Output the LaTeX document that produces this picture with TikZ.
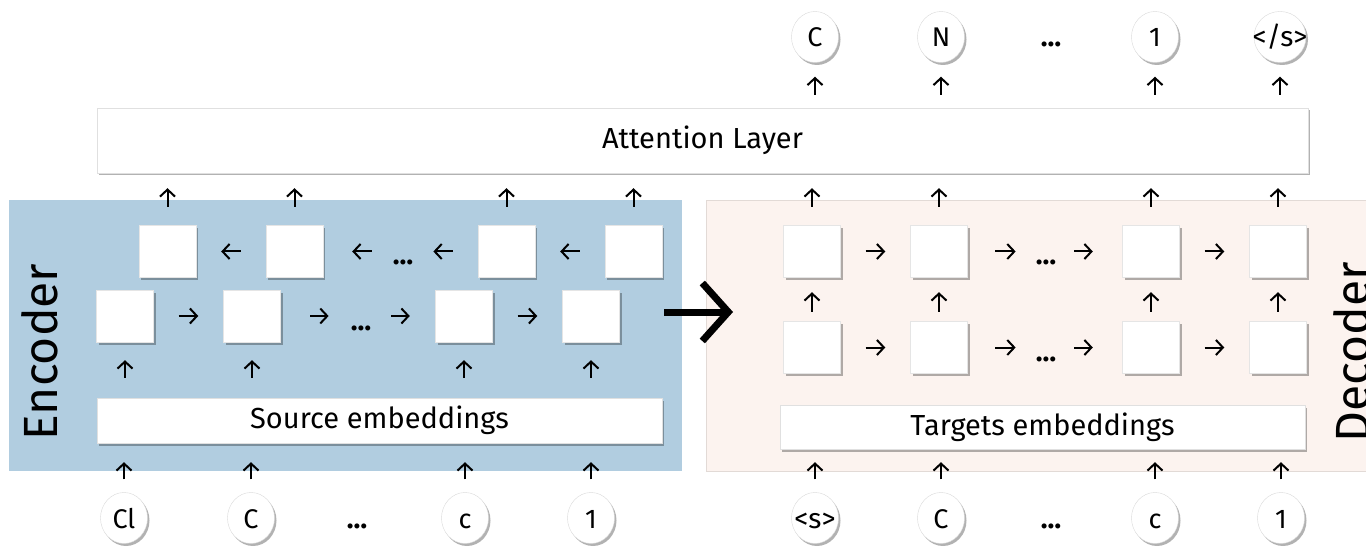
\documentclass[tikz,border=0pt]{standalone}
\usepackage{fontspec}
\setmainfont{Fira Sans}
\usetikzlibrary{arrows.meta,shadows,shapes.geometric}
\definecolor{encblue}{RGB}{177,205,224}
\definecolor{decpink}{RGB}{252,243,239}
\definecolor{decline}{RGB}{226,218,214}
\begin{document}
\begin{tikzpicture}[x=1pt,y=-1pt,
  font=\fontsize{29}{34}\selectfont,
  arr/.style={line width=2pt,-{Straight Barb[length=7pt,width=15pt]}},
  bigarr/.style={line width=7pt,-{Straight Barb[length=26pt,width=58pt]}},
  shade/.style={drop shadow={shadow xshift=2pt,shadow yshift=-2.5pt,opacity=0.3,fill=black}},
  cell/.style={draw=black!10,fill=white,minimum width=57pt,minimum height=52pt,inner sep=0pt,shade},
  bar/.style={draw=black!12,fill=white,inner sep=0pt,shade},
  token/.style={ellipse,draw=black!15,fill=white,minimum width=47pt,minimum height=51pt,inner sep=0pt,
    text height=20pt,text depth=0pt,font=\fontsize{27}{30}\selectfont,shade},
  tagtok/.style={token,inner xsep=-9pt},
  tagtext/.style={font=\fontsize{29}{30}\selectfont},
  dotsn/.style={inner sep=0pt,minimum width=20pt,text height=20pt,text depth=0pt,font=\fontsize{28}{30}\selectfont\bfseries},
  title/.style={font=\fontsize{48}{52}\selectfont,rotate=90,anchor=base,inner sep=0pt}
]
\useasboundingbox (0,0) rectangle (1366,548);
\fill[white] (0,0) rectangle (1366,548);

% backgrounds
\node[fill=encblue,minimum width=673pt,minimum height=271pt,inner sep=0pt,anchor=north west] (enc) at (9,200) {};
\node[fill=decpink,draw=decline,minimum width=680pt,minimum height=271pt,inner sep=0pt,anchor=north west] (dec) at (706,200) {};
\node[title] (enct) at (57,352) {Encoder};
\node[title] (dect) at (1369,352) {Decoder};

% attention layer
\node[bar,minimum width=1211pt,minimum height=65pt] (att) at (702.5,140.5) {Attention Layer};

% encoder
\node[bar,minimum width=565pt,minimum height=45pt] (src) at (379.5,420.5) {Source embeddings};
\foreach \n/\x in {1/125,2/252,3/464,4/591}{
  \node[cell] (e\n) at (\x,316) {};
}
\foreach \n/\x in {1/167.5,2/294.5,3/506.5,4/633.5}{
  \node[cell] (b\n) at (\x,251.5) {};
}
\node[dotsn] (dE) at (361,320) {…};
\node[dotsn] (dB) at (403,255) {…};

% decoder
\node[bar,minimum width=525pt,minimum height=44pt] (tgt) at (1042.5,427) {Targets embeddings};
\foreach \n/\x in {1/812,2/939,3/1151,4/1278}{
  \node[cell] (t\n) at (\x,251.5) {};
  \node[cell] (d\n) at (\x,347.5) {};
}
\node[dotsn] (dT) at (1046,255) {…};
\node[dotsn] (dD) at (1046,351) {…};

% tokens
\node[token] (i1) at (124,518) {Cl};
\node[token] (i2) at (251,518) {C};
\node[dotsn] (iD) at (357,518) {…};
\node[token] (i3) at (465,518) {c};
\node[token] (i4) at (591,518) {1};

\node[tagtok] (j1) at (815,518) {\fontsize{28}{30}\selectfont <s>};
\node[token] (j2) at (941,518) {C};
\node[dotsn] (jD) at (1051,518) {…};
\node[token] (j3) at (1155,518) {c};
\node[token] (j4) at (1281,518) {1};

\node[token] (o1) at (815,37) {C};
\node[token] (o2) at (941,37) {N};
\node[dotsn] (oD) at (1051,37) {…};
\node[token] (o3) at (1155,37) {1};
\node[tagtok] (o4) at (1280,37) {\fontsize{28}{30}\selectfont </s>};

% encoder arrows
\foreach \n in {1,2,3,4}{
  \draw[arr,shorten <=13pt,shorten >=19pt] (i\n) -- (i\n |- src.south);
  \draw[arr,shorten <=20pt,shorten >=18pt] (e\n |- src.north) -- (e\n);
  \draw[arr,shorten <=18.5pt,shorten >=15pt] (b\n) -- (b\n |- att.south);
}
\draw[arr,shorten <=25pt,shorten >=25pt] (e1) -- (e2);
\draw[arr,shorten <=29.5pt,shorten >=22pt] (e2) -- (e2 -| dE.west);
\draw[arr,shorten <=20pt,shorten >=25.5pt] (e3 -| dE.east) -- (e3);
\draw[arr,shorten <=25pt,shorten >=25pt] (e3) -- (e4);

\draw[arr,shorten <=25pt,shorten >=25pt] (b2) -- (b1);
\draw[arr,shorten <=21pt,shorten >=29pt] (b2 -| dB.west) -- (b2);
\draw[arr,shorten <=25pt,shorten >=20pt] (b3) -- (b3 -| dB.east);
\draw[arr,shorten <=25pt,shorten >=25pt] (b4) -- (b3);

% decoder arrows
\foreach \n in {1,2,3,4}{
  \draw[arr,shorten <=13pt,shorten >=13pt] (j\n) -- (j\n |- tgt.south);
  \draw[arr,shorten <=9.5pt,shorten >=14.5pt] (d\n) -- (t\n);
  \draw[arr,shorten <=18.5pt,shorten >=15pt] (t\n) -- (t\n |- att.south);
  \draw[arr,shorten <=13pt,shorten >=14pt] (att.north -| o\n) -- (o\n);
}
\foreach \r/\dd in {t/dT,d/dD}{
  \draw[arr,shorten <=25pt,shorten >=25pt] (\r1) -- (\r2);
  \draw[arr,shorten <=27.5pt,shorten >=20pt] (\r2) -- (\r2 -| \dd.west);
  \draw[arr,shorten <=18pt,shorten >=29.5pt] (\r3 -| \dd.east) -- (\r3);
  \draw[arr,shorten <=25pt,shorten >=25pt] (\r3) -- (\r4);
}

% encoder to decoder
\coordinate (ba1) at (664,312);
\coordinate (ba2) at (733,312);
\draw[bigarr] (ba1) -- (ba2);
\end{tikzpicture}
\end{document}
